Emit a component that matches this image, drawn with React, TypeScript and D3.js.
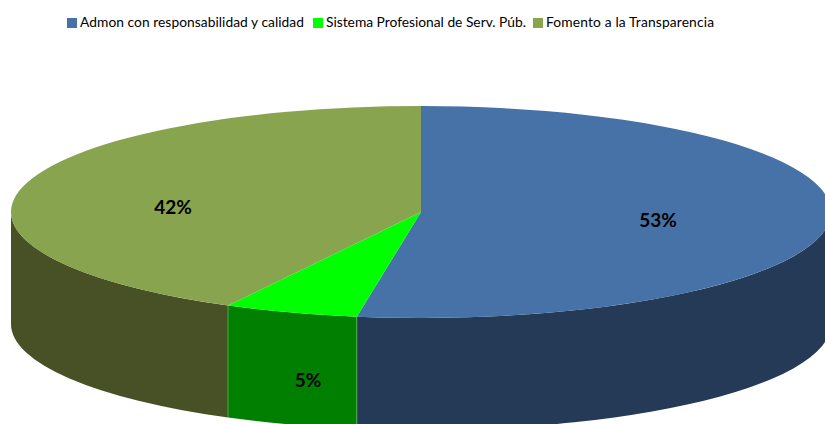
import React from "react";
import * as d3 from "d3";

const categories = ["Admon con responsabilidad y calidad", "Sistema Profesional de Serv. Púb.", "Fomento a la Transparencia"];
const values = [52.5, 5.3, 42.2];
const topColors = ["#4672a8", "#00ff00", "#89a44f"];
const sideColors = ["#243a56", "#007f00", "#485126"];

// legend x positions, swatch then text, and text widths as measured
const legendX = [67, 313, 533];
const legendW = [224, 200, 168];
// label centres, measured
const labelPos = [[658, 220], [308, 380], [173, 207]];

const width = 825;
const height = 424;
const cx = 421;
const cy = 212;
const rx = 410;
const ry = 106;
const depth = 112;

const pt = (a: number, dy = 0) => [cx + rx * Math.sin(a), cy - ry * Math.cos(a) + dy];

// wall of a slice: only the part of the rim facing the viewer (90deg..270deg)
function wallPath(a0: number, a1: number) {
  const s = Math.max(a0, Math.PI / 2);
  const e = Math.min(a1, (3 * Math.PI) / 2);
  if (e <= s) return null;
  const [x0, y0] = pt(s);
  const [x1, y1] = pt(e);
  return `M${x0},${y0}A${rx},${ry} 0 0 1 ${x1},${y1}L${x1},${y1 + depth}A${rx},${ry} 0 0 0 ${x0},${y0 + depth}Z`;
}

function topPath(a0: number, a1: number) {
  const [x0, y0] = pt(a0);
  const [x1, y1] = pt(a1);
  const large = a1 - a0 > Math.PI ? 1 : 0;
  return `M${cx},${cy}L${x0},${y0}A${rx},${ry} 0 ${large} 1 ${x1},${y1}Z`;
}

export default function App() {
  const slices = d3.pie<number>().sort(null)(values);
  return (
    <svg width={width} height={height} style={{ position: "absolute", left: 0, top: 0, background: "#fff" }}>
      {slices.map((s, i) => {
        const d = wallPath(s.startAngle, s.endAngle);
        return d ? <path key={i} d={d} fill={sideColors[i]} /> : null;
      })}
      {slices.slice(1).map((s, i) => {
        const [x, y] = pt(s.startAngle);
        return <line key={i} x1={x} x2={x} y1={y} y2={y + depth} stroke="#fff" strokeOpacity={0.3} />;
      })}
      {slices.map((s, i) => (
        <path key={i} d={topPath(s.startAngle, s.endAngle)} fill={topColors[i]} />
      ))}
      {slices.map((s, i) => (
        <text key={i} x={labelPos[i][0]} y={labelPos[i][1]} dy="0.35em" textAnchor="middle"
          fontFamily="Lato, sans-serif" fontWeight="bold" fontSize={19} fill="#000">
          {Math.round(s.data) + "%"}
        </text>
      ))}
      {categories.map((c, i) => (
        <g key={c}>
          <rect x={legendX[i]} y={18} width={10} height={10} fill={topColors[i]} />
          <text x={legendX[i] + 13} y={27} fontFamily="Lato, sans-serif" fontSize={13.8} fill="#000"
            textLength={legendW[i]} lengthAdjust="spacing">{c}</text>
        </g>
      ))}
    </svg>
  );
}
